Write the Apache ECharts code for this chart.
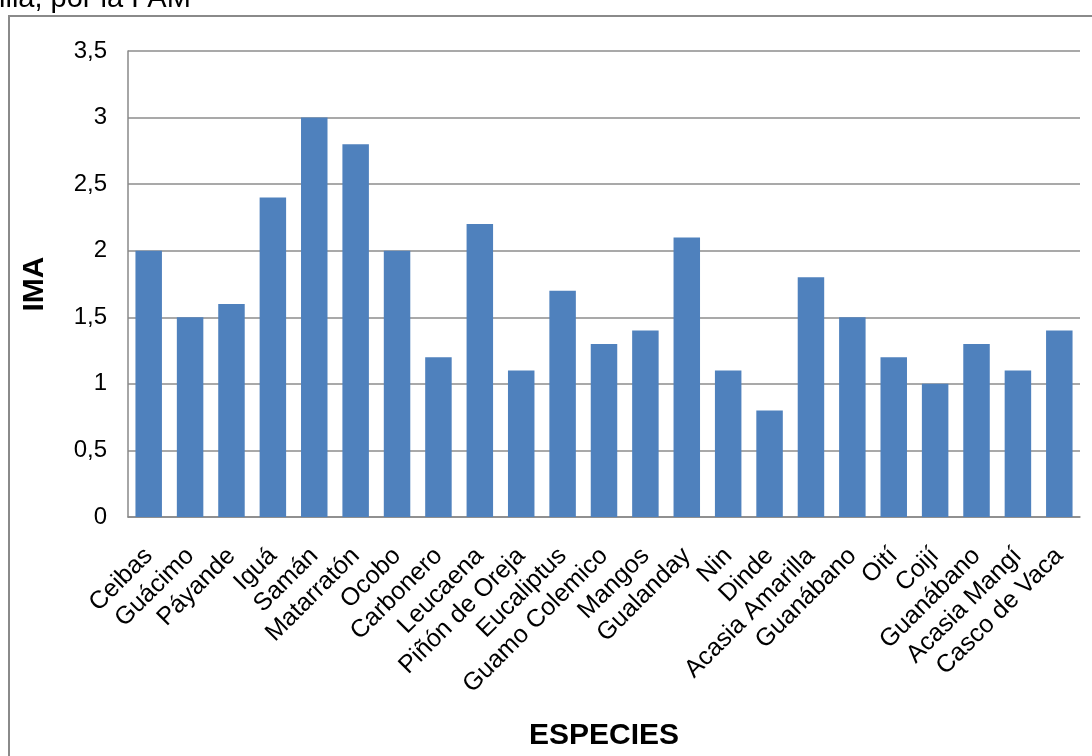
<!DOCTYPE html>
<html>
<head>
<meta charset="utf-8">
<script src="https://cdn.jsdelivr.net/npm/echarts@6/dist/echarts.min.js"></script>
<style>
html,body{margin:0;padding:0;background:#fff;}
#c{width:1092px;height:756px;}
</style>
</head>
<body>
<div id="c"></div>
<script>
var categories = ["Ceibas","Guácimo","Páyande","Iguá","Samán","Matarratón","Ocobo","Carbonero","Leucaena","Piñón de Oreja","Eucaliptus","Guamo Colemico","Mangos","Gualanday","Nin","Dinde","Acasia Amarilla","Guanábano","Oití","Coijí","Guanábano","Acasia Mangí","Casco de Vaca"];
var imaValues = [2.0,1.5,1.6,2.4,3.0,2.8,2.0,1.2,2.2,1.1,1.7,1.3,1.4,2.1,1.1,0.8,1.8,1.5,1.2,1.0,1.3,1.1,1.4];
var yTicks = [0,0.5,1,1.5,2,2.5,3,3.5];

var chart = echarts.init(document.getElementById('c'));
var font = 'Arial, "Liberation Sans", sans-serif';
chart.setOption({
  backgroundColor: '#fff',
  animation: false,
  graphic: [
    {type:'rect', shape:{x:9,y:16,width:1100,height:760}, style:{fill:'none',stroke:'#8a8a8a',lineWidth:2}},
    {type:'text', x:-1, y:-16, style:{text:'illa, por la FAM',font:'29px ' + font,fill:'#000'}}
  ],
  grid: {left:128, right:12, top:51, bottom:236, containLabel:false},
  xAxis: {
    type:'category',
    data: categories,
    name:'ESPECIES',
    nameLocation:'middle',
    nameGap:204,
    nameTextStyle:{fontFamily:font,fontSize:30,fontWeight:'bold',color:'#000'},
    axisLine:{lineStyle:{color:'#888',width:1.5}},
    axisTick:{show:false},
    axisLabel:{interval:0,rotate:45,margin:35,fontFamily:font,fontSize:25,color:'#000'}
  },
  yAxis: {
    type:'value',
    min:0, max:3.5, interval:0.5,
    name:'IMA',
    nameLocation:'middle',
    nameGap:78,
    nameRotate:90,
    nameTextStyle:{fontFamily:font,fontSize:30,fontWeight:'bold',color:'#000'},
    axisLine:{show:true,lineStyle:{color:'#888',width:1.5}},
    axisTick:{show:false},
    splitLine:{lineStyle:{color:'#8c8c8c',width:1.5}},
    axisLabel:{margin:21,fontFamily:font,fontSize:24,color:'#000',
      formatter:function(v){return String(v).replace('.',',');}}
  },
  series: [{
    type:'bar',
    data: imaValues,
    barCategoryGap:'36%',
    itemStyle:{color:'#4F81BD'}
  }]
});
</script>
</body>
</html>
